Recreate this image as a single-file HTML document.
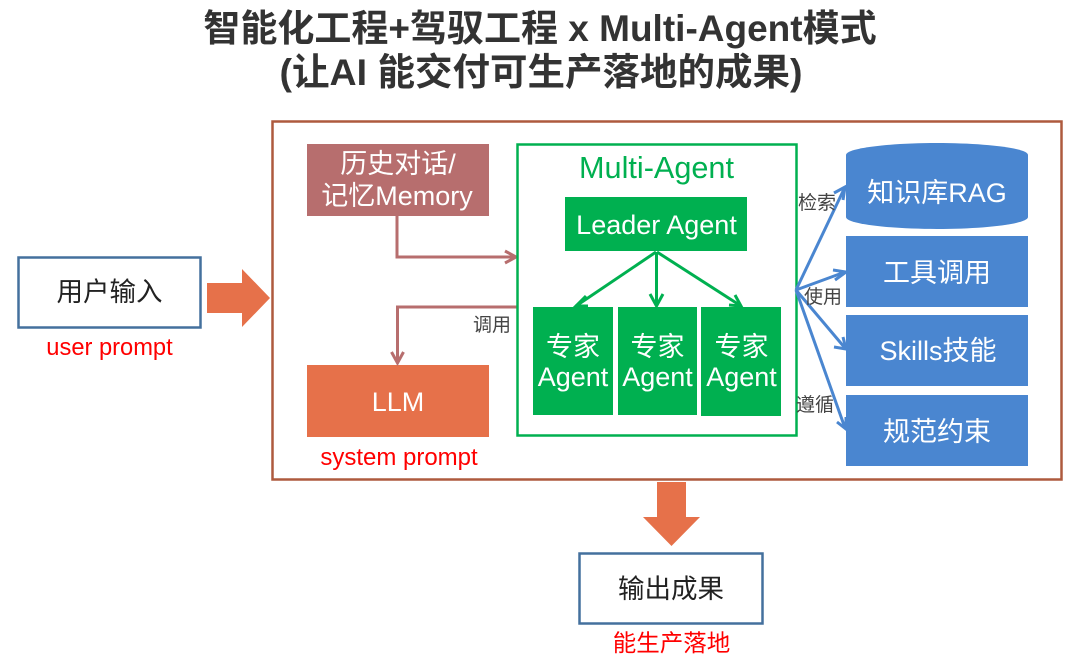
<!DOCTYPE html>
<html lang="zh">
<head>
<meta charset="utf-8">
<style>
html,body{margin:0;padding:0;background:#fff;width:1080px;height:672px;overflow:hidden}
svg{display:block}
text{font-family:"Liberation Sans","Noto Sans CJK SC",sans-serif}
</style>
</head>
<body>
<svg width="1080" height="672" viewBox="0 0 1080 672" xmlns="http://www.w3.org/2000/svg">
<rect width="1080" height="672" fill="#fff"/>
<text x="540" y="41" font-size="37" font-weight="700" fill="#333" text-anchor="middle">智能化工程+驾驭工程 x Multi-Agent模式</text>
<text x="541" y="85" font-size="37.500" font-weight="700" fill="#333" text-anchor="middle">(让AI 能交付可生产落地的成果)</text>

<rect x="272.500" y="121.500" width="789" height="358" fill="#fff" stroke="#AE5A3E" stroke-width="2.500"/>

<rect x="18.500" y="257.500" width="182" height="70" fill="#fff" stroke="#44709D" stroke-width="2.500"/>
<text x="109.500" y="301" font-size="26.500" fill="#222" text-anchor="middle">用户输入</text>
<text x="109.500" y="355" font-size="23.700" fill="#f00" text-anchor="middle">user prompt</text>
<polygon points="207,283 242,283 242,269 270,298 242,327 242,313 207,313" fill="#E6714A"/>

<rect x="307" y="144" width="182" height="72" fill="#B76E6E"/>
<text x="398" y="173" font-size="27" fill="#fff" text-anchor="middle">历史对话/</text>
<text x="397" y="205" font-size="27" fill="#fff" text-anchor="middle">记忆Memory</text>

<rect x="307" y="365" width="182" height="72" fill="#E6714A"/>
<text x="398" y="411" font-size="27" fill="#fff" text-anchor="middle">LLM</text>
<text x="399" y="465" font-size="24" fill="#f00" text-anchor="middle">system prompt</text>

<g fill="none" stroke="#B76E6E" stroke-width="3">
<polyline points="397,216 397,257 516,257"/>
<polyline points="505,251 516,257 505,263"/>
<polyline points="517,307 397.500,307 397.500,363"/>
<polyline points="391.500,352 397.500,363 403.500,352"/>
</g>
<text x="473" y="331" font-size="19" fill="#444">调用</text>

<rect x="517.500" y="144.500" width="279" height="291" fill="#fff" stroke="#00B050" stroke-width="2.500"/>
<text x="656.500" y="178" font-size="30.500" fill="#00B050" text-anchor="middle" textLength="155" lengthAdjust="spacingAndGlyphs">Multi-Agent</text>
<rect x="565" y="197" width="182" height="54" fill="#00B050"/>
<text x="656.500" y="234" font-size="27" fill="#fff" text-anchor="middle">Leader Agent</text>
<rect x="533" y="307" width="80" height="108" fill="#00B050"/>
<rect x="618" y="307" width="79" height="108" fill="#00B050"/>
<rect x="701" y="307" width="80" height="109" fill="#00B050"/>
<g font-size="27" fill="#fff" text-anchor="middle">
<text x="573" y="356">专家</text><text x="573" y="386">Agent</text>
<text x="657.500" y="356">专家</text><text x="657.500" y="386">Agent</text>
<text x="741.500" y="356">专家</text><text x="741.500" y="386">Agent</text>
</g>
<g fill="none" stroke="#00B050" stroke-width="3">
<line x1="656" y1="252" x2="576" y2="306"/>
<polyline points="586,296 576,306 588,306"/>
<line x1="656.500" y1="252" x2="656.500" y2="306"/>
<polyline points="650,294 656.500,306 663,294"/>
<line x1="657" y1="252" x2="741" y2="306"/>
<polyline points="729,305 741,306 735,295"/>
</g>

<g fill="#4A86D0">
<path d="M846,155 C846,148 890,143 937,143 C984,143 1028,148 1028,155 L1028,217 C1028,224 984,229 937,229 C890,229 846,224 846,217 Z"/>
<rect x="846" y="236" width="182" height="71"/>
<rect x="846" y="315" width="182" height="71"/>
<rect x="846" y="395" width="182" height="71"/>
</g>
<g font-size="27" fill="#fff" text-anchor="middle">
<text x="937" y="202">知识库RAG</text>
<text x="937" y="282">工具调用</text>
<text x="938" y="360">Skills技能</text>
<text x="937" y="441">规范约束</text>
</g>
<g fill="none" stroke="#4A86D0" stroke-width="3">
<line x1="796" y1="290" x2="845" y2="187"/>
<polyline points="834,193 845,187 843,200"/>
<line x1="796" y1="290" x2="845" y2="272"/>
<polyline points="833,270 846,272 835,280"/>
<line x1="796" y1="290" x2="845" y2="348"/>
<polyline points="834,347 846,349 843,337"/>
<line x1="796" y1="290" x2="845" y2="428"/>
<polyline points="837,422 846,429 846,417"/>
</g>
<g font-size="19" fill="#444">
<text x="798" y="209">检索</text>
<text x="804" y="303">使用</text>
<text x="796" y="411">遵循</text>
</g>

<polygon points="657,482 686,482 686,517 700,517 671.500,546 643,517 657,517" fill="#E6714A"/>
<rect x="579.500" y="553.500" width="183" height="70" fill="#fff" stroke="#44709D" stroke-width="2.500"/>
<text x="671" y="598" font-size="26.500" fill="#222" text-anchor="middle">输出成果</text>
<text x="671.500" y="651" font-size="23.500" fill="#f00" text-anchor="middle">能生产落地</text>
</svg>
</body>
</html>
